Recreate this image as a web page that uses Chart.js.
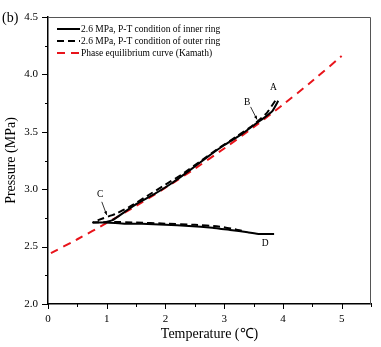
<!DOCTYPE html>
<html>
<head>
<meta charset="utf-8">
<script src="https://cdn.jsdelivr.net/npm/chart.js@4.4.1/dist/chart.umd.min.js"></script>
<style>
html,body{margin:0;padding:0;background:#fff;}
canvas{display:block;}
</style>
</head>
<body>
<canvas id="c" width="381" height="347"></canvas>
<script>
// ---- data ----
const seriesNames = [
  '2.6 MPa, P-T condition of inner ring',
  '2.6 MPa, P-T condition of outer ring',
  'Phase equilibrium curve (Kamath)'
];
const innerT = [3.92, 3.82, 3.70, 3.55, 3.30, 3.00, 2.70, 2.40, 2.10, 1.80, 1.50, 1.30, 1.10, 0.95, 0.77, 1.00, 1.30, 1.60, 2.00, 2.40, 2.80, 3.10, 3.40, 3.60, 3.85];
const innerP = [3.77, 3.68, 3.63, 3.575, 3.48, 3.385, 3.275, 3.16, 3.05, 2.955, 2.87, 2.80, 2.73, 2.71, 2.71, 2.71, 2.70, 2.70, 2.69, 2.68, 2.665, 2.645, 2.625, 2.61, 2.61];
const outerT = [3.87, 3.72, 3.50, 3.20, 2.90, 2.60, 2.30, 2.00, 1.70, 1.40, 1.15, 0.93, 0.80, 0.77, 1.10, 1.50, 2.00, 2.50, 2.90, 3.20, 3.36];
const outerP = [3.77, 3.66, 3.56, 3.455, 3.355, 3.245, 3.135, 3.04, 2.945, 2.85, 2.785, 2.745, 2.72, 2.71, 2.715, 2.71, 2.70, 2.69, 2.675, 2.65, 2.63];
const kamathT = [0.05, 0.5, 1.0, 1.5, 2.0, 2.5, 3.0, 3.5, 4.0, 4.5, 5.0];
const kamathP = [2.443, 2.564, 2.706, 2.855, 3.013, 3.179, 3.355, 3.540, 3.736, 3.942, 4.160];
const pointLabels = ['A', 'B', 'C', 'D'];
const xAxisTitle = 'Temperature (\u2103)';
const yAxisTitle = 'Pressure (MPa)';
const panelLabel = '(b)';

// ---- annotation placement (data coordinates) ----
const labelPos = [[3.84, 3.89], [3.39, 3.755], [0.89, 2.95], [3.70, 2.53]];
const arrows = [
  [[3.45, 3.717], [3.56, 3.607]],
  [[0.916, 2.89], [1.0, 2.775]]
];

const toXY = (xs, ys) => xs.map((x, i) => ({x: x, y: ys[i]}));
const SERIF = '"Liberation Serif", "Times New Roman", serif';

const overlay = {
  id: 'overlay',
  afterDraw(chart) {
    const ctx = chart.ctx;
    const a = chart.chartArea;
    const xs = chart.scales.x, ys = chart.scales.y;
    ctx.save();
    // frame top/right
    ctx.strokeStyle = '#555';
    ctx.lineWidth = 1;
    ctx.beginPath();
    ctx.moveTo(a.left, a.top + 0.5);
    ctx.lineTo(a.right - 0.5, a.top + 0.5);
    ctx.lineTo(a.right - 0.5, a.bottom);
    ctx.stroke();
    // ticks
    ctx.strokeStyle = '#000';
    ctx.lineWidth = 1;
    xs.ticks.forEach(t => {
      const major = Math.abs(t.value - Math.round(t.value)) < 1e-6;
      const px = Math.round(xs.getPixelForValue(t.value)) + 0.5;
      const len = major ? 5 : 3;
      ctx.beginPath();
      ctx.moveTo(px, a.bottom);
      ctx.lineTo(px, a.bottom + len);
      ctx.stroke();
    });
    ys.ticks.forEach(t => {
      const major = Math.abs(t.value * 2 - Math.round(t.value * 2)) < 1e-6;
      const py = Math.round(ys.getPixelForValue(t.value)) + 0.5;
      const len = major ? 6 : 3;
      ctx.beginPath();
      ctx.moveTo(a.left, py);
      ctx.lineTo(a.left - len, py);
      ctx.stroke();
    });
    // panel label
    ctx.fillStyle = '#000';
    ctx.font = '14px ' + SERIF;
    ctx.textAlign = 'left';
    ctx.textBaseline = 'middle';
    ctx.fillText(panelLabel, 2, 18);
    // legend
    ctx.font = '9.5px ' + SERIF;
    chart.data.datasets.forEach((ds, i) => {
      const y = 29 + i * 12;
      ctx.save();
      ctx.strokeStyle = ds.borderColor;
      ctx.lineWidth = 2;
      ctx.setLineDash(ds.borderDash || []);
      ctx.beginPath();
      ctx.moveTo(57, y);
      ctx.lineTo(80, y);
      ctx.stroke();
      ctx.restore();
      ctx.fillStyle = '#000';
      ctx.fillText(ds.label, 81, y + 0.5);
    });
    // point labels
    ctx.font = '9.5px ' + SERIF;
    ctx.textAlign = 'center';
    pointLabels.forEach((l, i) => {
      ctx.fillText(l, xs.getPixelForValue(labelPos[i][0]), ys.getPixelForValue(labelPos[i][1]));
    });
    // arrows
    arrows.forEach(ar => {
      const x1 = xs.getPixelForValue(ar[0][0]), y1 = ys.getPixelForValue(ar[0][1]);
      const x2 = xs.getPixelForValue(ar[1][0]), y2 = ys.getPixelForValue(ar[1][1]);
      ctx.strokeStyle = '#000';
      ctx.lineWidth = 0.8;
      ctx.beginPath();
      ctx.moveTo(x1, y1);
      ctx.lineTo(x2, y2);
      ctx.stroke();
      const ang = Math.atan2(y2 - y1, x2 - x1);
      const h = 4;
      ctx.beginPath();
      ctx.moveTo(x2, y2);
      ctx.lineTo(x2 - h * Math.cos(ang - 0.4), y2 - h * Math.sin(ang - 0.4));
      ctx.lineTo(x2 - h * Math.cos(ang + 0.4), y2 - h * Math.sin(ang + 0.4));
      ctx.closePath();
      ctx.fillStyle = '#000';
      ctx.fill();
    });
    ctx.restore();
  }
};

new Chart(document.getElementById('c'), {
  type: 'scatter',
  data: {
    datasets: [
      {label: seriesNames[0], data: toXY(innerT, innerP), showLine: true, borderColor: '#000', borderWidth: 2, pointRadius: 0, tension: 0.1},
      {label: seriesNames[1], data: toXY(outerT, outerP), showLine: true, borderColor: '#000', borderWidth: 2, borderDash: [7, 4], pointRadius: 0, tension: 0.1},
      {label: seriesNames[2], data: toXY(kamathT, kamathP), showLine: true, borderColor: '#e8141b', borderWidth: 2, borderDash: [8, 6], pointRadius: 0, tension: 0.3}
    ]
  },
  options: {
    responsive: false,
    animation: false,
    devicePixelRatio: 1,
    layout: {padding: {left: 0, top: 17, right: 10, bottom: 0}},
    plugins: {legend: {display: false}, tooltip: {enabled: false}},
    scales: {
      x: {
        type: 'linear', min: 0, max: 5.5,
        afterFit: s => { s.height = 43; },
        grid: {display: true, drawOnChartArea: false, drawTicks: false},
        border: {display: true, color: '#000', width: 1.5},
        ticks: {
          stepSize: 0.5, autoSkip: false, maxRotation: 0, padding: 9,
          color: '#000', font: {family: SERIF, size: 11},
          callback: v => (Math.abs(v - Math.round(v)) < 1e-6 ? String(Math.round(v)) : '')
        },
        title: {display: true, text: xAxisTitle, color: '#000', font: {family: SERIF, size: 14}, padding: {top: 0, bottom: 4}}
      },
      y: {
        type: 'linear', min: 2.0, max: 4.5,
        afterFit: s => { s.width = 48; },
        grid: {display: true, drawOnChartArea: false, drawTicks: false},
        border: {display: true, color: '#000', width: 1.5},
        ticks: {
          stepSize: 0.25, autoSkip: false, padding: 10,
          color: '#000', font: {family: SERIF, size: 11},
          callback: v => (Math.abs(v * 2 - Math.round(v * 2)) < 1e-6 ? v.toFixed(1) : '')
        },
        title: {display: true, text: yAxisTitle, color: '#000', font: {family: SERIF, size: 14}, padding: {top: 3, bottom: 0}}
      }
    }
  },
  plugins: [overlay]
});
</script>
</body>
</html>
